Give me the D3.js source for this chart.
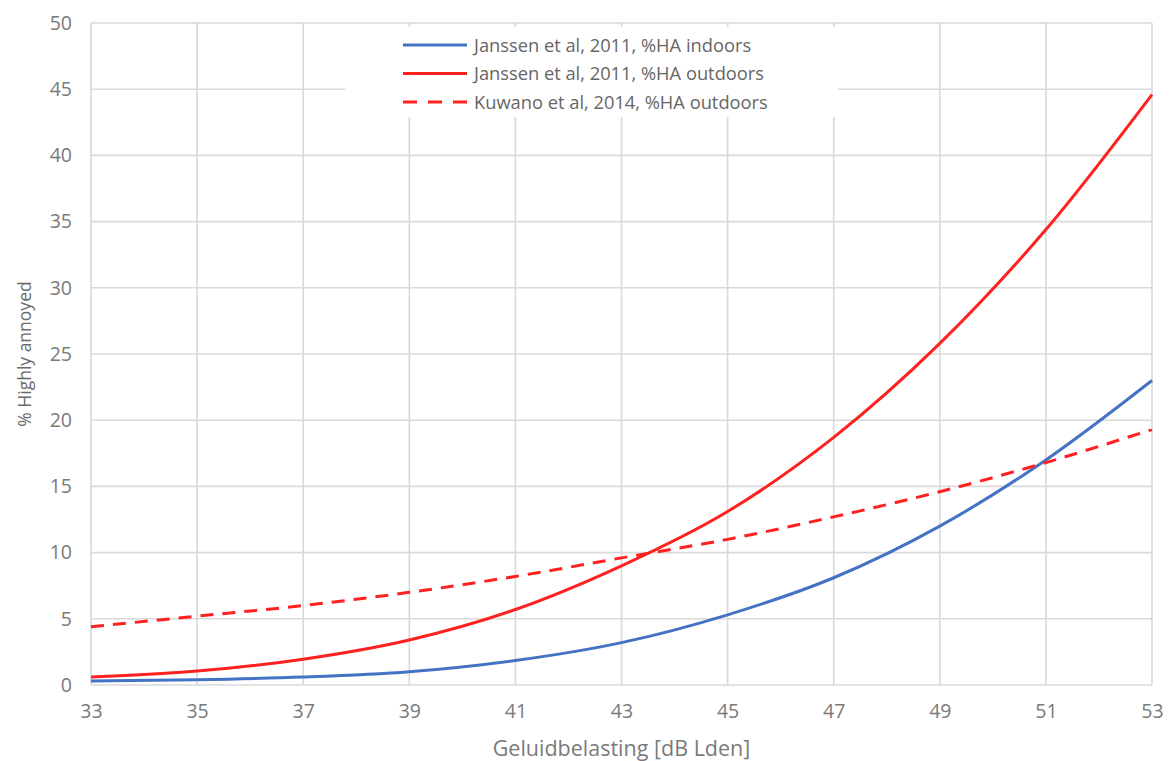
<!DOCTYPE html>
<html>
<head>
<meta charset="utf-8">
<script src="https://cdn.jsdelivr.net/npm/d3@7"></script>
<style>
body { margin: 0; background: #fff; }
text { font-family: "Open Sans", Lato, sans-serif; }
</style>
</head>
<body>
<div id="chart"></div>
<script>
// dB Lden
const levels = [33, 35, 37, 39, 41, 43, 45, 47, 49, 51, 53];
const indoorsJanssen = [0.3, 0.4, 0.6, 1.0, 1.85, 3.2, 5.3, 8.1, 12.0, 17.0, 23.0];
const outdoorsJanssen = [0.6, 1.05, 1.95, 3.4, 5.7, 9.0, 13.1, 18.7, 25.8, 34.4, 44.6];
const outdoorsKuwano = [4.4, 5.2, 6.0, 7.0, 8.2, 9.6, 11.0, 12.7, 14.6, 16.8, 19.3];
const xTicks = [33, 35, 37, 39, 41, 43, 45, 47, 49, 51, 53];
const yTicks = [0, 5, 10, 15, 20, 25, 30, 35, 40, 45, 50];

const series = [
    {name: 'Janssen et al, 2011, %HA indoors', values: indoorsJanssen, color: '#4472c4', dash: null},
    {name: 'Janssen et al, 2011, %HA outdoors', values: outdoorsJanssen, color: '#ff2020', dash: null},
    {name: 'Kuwano et al, 2014, %HA outdoors', values: outdoorsKuwano, color: '#ff2020', dash: '13,9'}
];

const width = 1172, height = 761;
const margin = {left: 91, right: 20, top: 23, bottom: 76};

const svg = d3.select('#chart').append('svg')
    .attr('width', width)
    .attr('height', height);

const x = d3.scaleLinear().domain([33, 53]).range([margin.left, width - margin.right]);
const y = d3.scaleLinear().domain([0, 50]).range([height - margin.bottom, margin.top]);

// grid
svg.append('g').selectAll('line.v').data(xTicks).enter().append('line')
    .attr('x1', d => x(d)).attr('x2', d => x(d))
    .attr('y1', y(50)).attr('y2', y(0))
    .attr('stroke', '#d9d9d9').attr('stroke-width', 1.6);
svg.append('g').selectAll('line.h').data(yTicks).enter().append('line')
    .attr('x1', x(33)).attr('x2', x(53))
    .attr('y1', d => y(d)).attr('y2', d => y(d))
    .attr('stroke', '#d9d9d9').attr('stroke-width', 1.6);

// axes (labels only)
const xAxis = svg.append('g')
    .attr('transform', 'translate(0,' + (y(0) + 16) + ')')
    .call(d3.axisBottom(x).tickValues(xTicks).tickSize(0));
const yAxis = svg.append('g')
    .attr('transform', 'translate(' + (x(33) - 16) + ',0)')
    .call(d3.axisLeft(y).tickValues(yTicks).tickSize(0));
[xAxis, yAxis].forEach(function (a) {
    a.select('.domain').remove();
    a.selectAll('text')
        .attr('fill', '#7a7a7a')
        .style('font-size', '19.5px');
});

svg.append('text')
    .attr('x', (x(33) + x(53)) / 2)
    .attr('y', 756)
    .attr('text-anchor', 'middle')
    .attr('fill', '#7a7a7a')
    .style('font-size', '21.5px')
    .text('Geluidbelasting [dB Lden]');

svg.append('text')
    .attr('transform', 'translate(31,' + ((y(0) + y(50)) / 2) + ') rotate(-90)')
    .attr('text-anchor', 'middle')
    .attr('fill', '#6a6a6a')
    .style('font-size', '17.5px')
    .text('% Highly annoyed');

// curves
const line = d3.line()
    .x((d, i) => x(levels[i]))
    .y(d => y(d))
    .curve(d3.curveMonotoneX);

svg.append('g').selectAll('path').data(series).enter().append('path')
    .attr('d', d => line(d.values))
    .attr('fill', 'none')
    .attr('stroke', d => d.color)
    .attr('stroke-width', 3)
    .attr('stroke-dasharray', d => d.dash);

// legend
const legend = svg.append('g');
legend.append('rect')
    .attr('x', 345).attr('y', 27)
    .attr('width', 493).attr('height', 90)
    .attr('fill', '#fff');
const item = legend.selectAll('g.item').data(series).enter().append('g')
    .attr('transform', (d, i) => 'translate(403,' + (45 + i * 28.5) + ')');
item.append('line')
    .attr('x1', 0).attr('x2', 64)
    .attr('stroke', d => d.color)
    .attr('stroke-width', 3)
    .attr('stroke-dasharray', d => d.dash ? '14,11' : null);
item.append('text')
    .attr('x', 71).attr('y', 6.5)
    .attr('fill', '#666')
    .style('font-size', '18.3px')
    .text(d => d.name);
</script>
</body>
</html>
